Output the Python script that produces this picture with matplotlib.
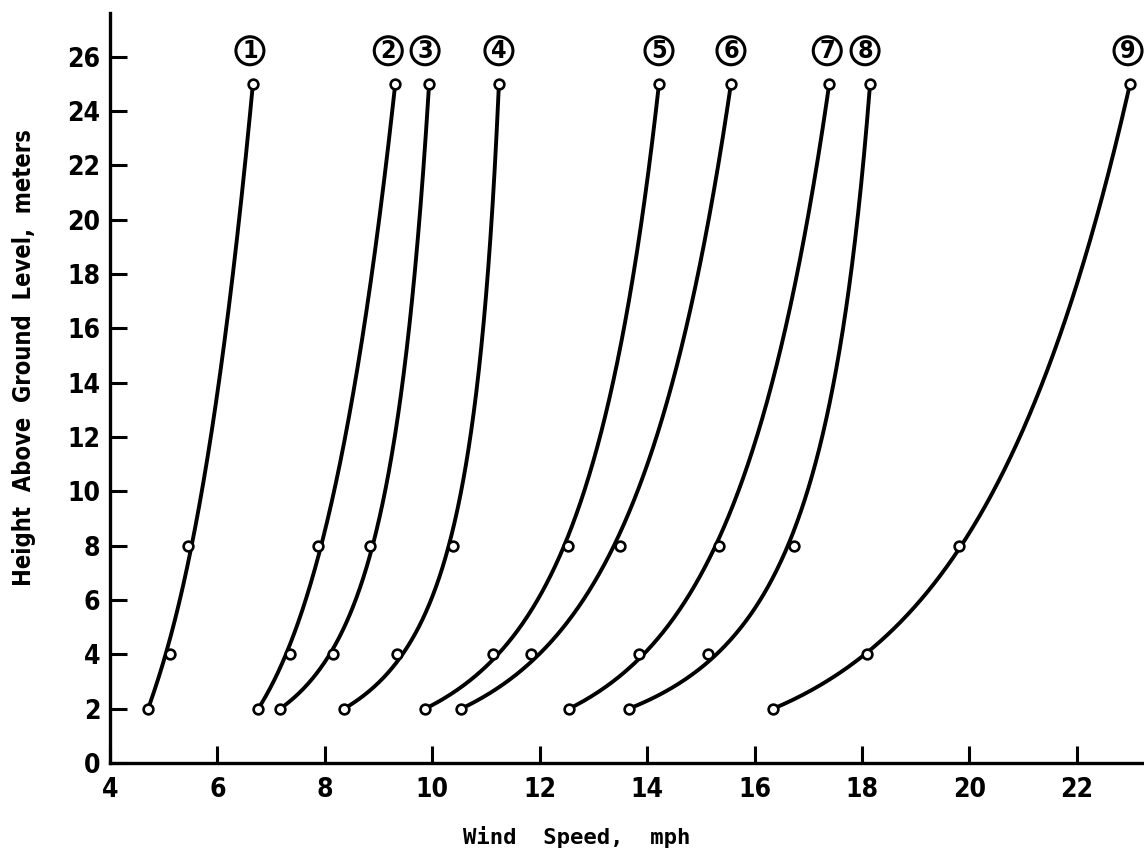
import numpy as np
import matplotlib.pyplot as plt

plt.rcParams['font.family'] = ['DejaVu Sans']
plt.rcParams['font.stretch'] = 'condensed'
plt.rcParams['font.weight'] = 'bold'

# Measuring heights (m) and wind speeds (mph) for each profile run
heights = [2, 4, 8, 25]
run_labels = ["1", "2", "3", "4", "5", "6", "7", "8", "9"]
speed_1 = [4.71, 5.12, 5.45, 6.66]
speed_2 = [6.76, 7.35, 7.87, 9.31]
speed_3 = [7.17, 8.15, 8.84, 9.94]
speed_4 = [8.36, 9.34, 10.39, 11.24]
speed_5 = [9.87, 11.13, 12.53, 14.22]
speed_6 = [10.54, 11.84, 13.50, 15.56]
speed_7 = [12.55, 13.85, 15.34, 17.39]
speed_8 = [13.66, 15.14, 16.74, 18.15]
speed_9 = [16.35, 18.10, 19.81, 22.99]
speeds = [speed_1, speed_2, speed_3, speed_4, speed_5,
          speed_6, speed_7, speed_8, speed_9]

# small horizontal nudges (pixels) so neighbouring circled labels don't collide
label_dx = [-3, -7, -4, 0, 0, 0, -2, -5, -2]


def profile_curve(z, u, zn):
    """Quadratic in ln(z), pinned to the lowest and highest readings,
    least-squares through the ones in between."""
    L = np.log(np.asarray(z, float))
    u = np.asarray(u, float)
    L0, L1 = L[0], L[-1]
    slope = (u[-1] - u[0]) / (L1 - L0)
    line = u[0] + slope * (L - L0)
    basis = (L - L0) * (L - L1)
    c = np.sum((u - line) * basis) / np.sum(basis ** 2)
    Ln = np.log(zn)
    return u[0] + slope * (Ln - L0) + c * (Ln - L0) * (Ln - L1)


fig = plt.figure(figsize=(11.44, 8.57), dpi=100)
ax = fig.add_axes([0.0962, 0.1097, 0.9038, 0.875])

zz = np.linspace(2, 25, 400)
for u in speeds:
    ax.plot(profile_curve(heights, u, zz), zz, color='black', lw=2.8,
            solid_capstyle='round', zorder=2)
    ax.plot(u, heights, 'o', ms=7, mfc='white', mec='black', mew=1.9,
            zorder=3)

for lab, u, dx in zip(run_labels, speeds, label_dx):
    ax.annotate(lab, xy=(u[-1], heights[-1]), xytext=(dx, 33),
                textcoords='offset pixels', ha='center', va='center',
                fontsize=18, fontweight='bold',
                bbox=dict(boxstyle='circle,pad=0.08', fc='white',
                          ec='black', lw=2.2))

ax.set_xlim(4, 23.25)
ax.set_ylim(0, 27.6)
ax.set_xticks(np.arange(4, 23, 2))
ax.set_yticks(np.arange(0, 27, 2))

for side in ('top', 'right'):
    ax.spines[side].set_visible(False)
for side in ('left', 'bottom'):
    ax.spines[side].set_linewidth(2.4)

ax.tick_params(axis='both', direction='in', length=12, width=2.2,
               labelsize=19)
ax.tick_params(axis='x', pad=10)
ax.tick_params(axis='y', pad=7)

ax.set_xlabel('Wind  Speed,  mph', fontsize=16, fontweight='bold',
              family='DejaVu Sans Mono')
ax.xaxis.set_label_coords(0.451, -0.084)
ax.set_ylabel('Height  Above  Ground  Level,  meters', fontsize=17,
              fontweight='bold')
ax.yaxis.set_label_coords(-0.072, 0.54)

fig.savefig('out.png', dpi=100)
